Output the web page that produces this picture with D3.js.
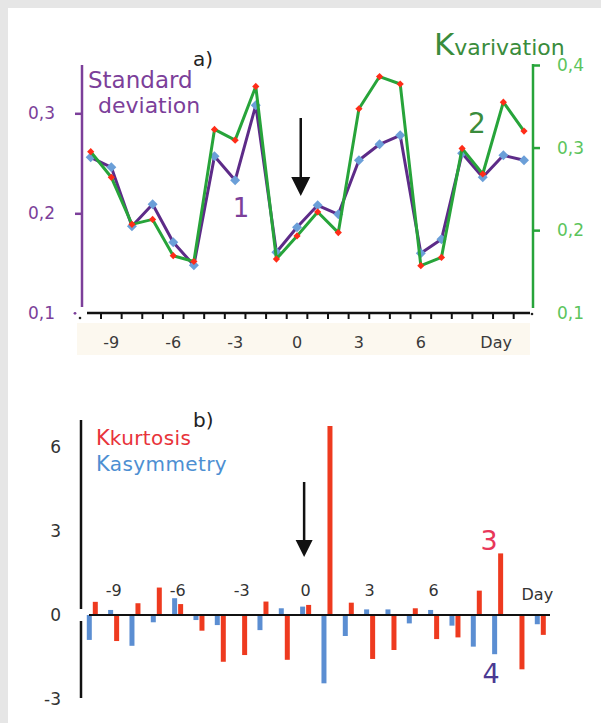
<!DOCTYPE html>
<html>
<head>
<meta charset="utf-8">
<script src="https://cdn.jsdelivr.net/npm/d3@7"></script>
<style>
  html, body { margin: 0; padding: 0; background: #e6e6e6; }
  svg { display: block; }
  text { font-family: "DejaVu Sans", Verdana, sans-serif; }
</style>
</head>
<body>
<div id="chart"></div>
<script>
// Days of observation (0 = event day)
const days = [-10, -9, -8, -7, -6, -5, -4, -3, -2, -1, 0, 1, 2, 3, 4, 5, 6, 7, 8, 9, 10, 11];

// a) Standard deviation (left axis) and K variation (right axis)
const stdDev     = [0.256, 0.246, 0.187, 0.209, 0.171, 0.148, 0.257, 0.233, 0.308, 0.161, 0.186,
                    0.208, 0.199, 0.253, 0.269, 0.278, 0.160, 0.174, 0.260, 0.236, 0.258, 0.253];
const kVariation = [0.295, 0.264, 0.207, 0.213, 0.169, 0.162, 0.322, 0.309, 0.374, 0.165, 0.193,
                    0.222, 0.197, 0.347, 0.386, 0.377, 0.157, 0.167, 0.299, 0.268, 0.355, 0.320];

// b) K kurtosis and K asymmetry
const kKurtosis  = [0.47, -0.93, 0.42, 0.98, 0.39, -0.56, -1.67, -1.43, 0.48, -1.60, 0.36,
                    6.75, 0.44, -1.57, -1.25, 0.24, -0.86, -0.80, 0.87, 2.20, -1.94, -0.71];
const kAsymmetry = [-0.89, 0.18, -1.10, -0.26, 0.60, -0.18, -0.36, 0.00, -0.54, 0.24, 0.30,
                    -2.44, -0.75, 0.20, 0.20, -0.30, 0.18, -0.38, -1.13, -1.40, 0.00, -0.33];

// Tick labels
const dayTicks    = [-9, -6, -3, 0, 3, 6];
const leftTicks   = [0.1, 0.2, 0.3];
const rightTicks  = [0.1, 0.2, 0.3, 0.4];
const bottomTicks = [-3, 0, 3, 6];

const PURPLE      = "#5d2b88";
const PURPLE_TEXT = "#7c3f9a";
const GREEN       = "#27a43a";
const GREEN_DARK  = "#3a8c3c";
const GREEN_LIGHT = "#5cc45c";
const BLUE        = "#6b9fd8";
const RED_DOT     = "#ff2c18";
const BAR_RED     = "#ee3a1f";
const BAR_BLUE    = "#5b8ed2";

const W = 601, H = 723;

const svg = d3.select("#chart").append("svg")
  .attr("width", W).attr("height", H);

svg.append("rect").attr("width", W).attr("height", H).attr("fill", "#e6e6e6");
svg.append("rect").attr("x", 8).attr("y", 8).attr("width", W - 8).attr("height", H - 8).attr("fill", "#fff");

const fmtComma = d => d.toFixed(1).replace(".", ",");

// ── Panel a ────────────────────────────────────────────────────────────────
const xTop   = d3.scaleLinear().domain([-10, 11]).range([90.7, 524]);
const yLeft  = d3.scaleLinear().domain([0.1, 0.3]).range([313.3, 113.3]);
const yRight = d3.scaleLinear().domain([0.1, 0.4]).range([312.7, 65]);

// beige band behind the day labels
svg.append("rect")
  .attr("x", 77).attr("y", 323).attr("width", 453).attr("height", 32)
  .attr("fill", "#fcf8ef");

// x axis (ticks between days)
const halfDays = days.slice(1).map(d => d - 0.5);
svg.append("line")
  .attr("x1", 87).attr("x2", 530).attr("y1", 313).attr("y2", 313)
  .attr("stroke", "#111").attr("stroke-width", 2.5);
svg.selectAll(".xtickTop").data(halfDays).join("line")
  .attr("x1", d => xTop(d)).attr("x2", d => xTop(d))
  .attr("y1", 313).attr("y2", 319)
  .attr("stroke", "#111").attr("stroke-width", 2);
svg.append("circle").attr("cx", 80).attr("cy", 318).attr("r", 1.3).attr("fill", "#222");
svg.append("circle").attr("cx", 532).attr("cy", 314).attr("r", 1.3).attr("fill", "#222");

svg.selectAll(".xlabTop").data(dayTicks).join("text")
  .attr("x", d => xTop(d)).attr("y", 348)
  .attr("text-anchor", "middle").attr("font-size", 16).attr("fill", "#3a3a3a")
  .text(d => d);
svg.append("text")
  .attr("x", xTop(9.65)).attr("y", 348)
  .attr("text-anchor", "middle").attr("font-size", 16).attr("fill", "#3a3a3a")
  .text("Day");

// left axis (standard deviation)
svg.append("line")
  .attr("x1", 82).attr("x2", 82).attr("y1", 65).attr("y2", 307)
  .attr("stroke", PURPLE_TEXT).attr("stroke-width", 2.5);
const leftAxis = svg.append("g")
  .attr("transform", "translate(82,0)")
  .call(d3.axisLeft(yLeft).tickValues(leftTicks).tickSize(7).tickPadding(20).tickFormat(fmtComma));
leftAxis.select(".domain").remove();
leftAxis.selectAll(".tick line").attr("stroke", PURPLE_TEXT).attr("stroke-width", 2.5)
  .filter(d => d === 0.1).remove();
leftAxis.selectAll(".tick text")
  .attr("font-family", "DejaVu Sans, Verdana, sans-serif")
  .attr("font-size", 17).attr("fill", PURPLE_TEXT);
svg.append("circle").attr("cx", 75).attr("cy", yLeft(0.1)).attr("r", 1.4).attr("fill", PURPLE_TEXT);

// right axis (K variation)
svg.append("line")
  .attr("x1", 533).attr("x2", 533).attr("y1", 64).attr("y2", 308)
  .attr("stroke", GREEN).attr("stroke-width", 2.5);
const rightAxis = svg.append("g")
  .attr("transform", "translate(533,0)")
  .call(d3.axisRight(yRight).tickValues(rightTicks).tickSize(7).tickPadding(17).tickFormat(fmtComma));
rightAxis.select(".domain").remove();
rightAxis.selectAll(".tick line").attr("stroke", GREEN).attr("stroke-width", 2.5)
  .filter(d => d === 0.1).remove();
rightAxis.selectAll(".tick text")
  .attr("font-family", "DejaVu Sans, Verdana, sans-serif")
  .attr("font-size", 17).attr("fill", GREEN_LIGHT);

// lines
const sdPts = days.map((d, i) => ({ day: d, v: stdDev[i] }));
const kvPts = days.map((d, i) => ({ day: d, v: kVariation[i] }));

svg.append("path")
  .datum(sdPts)
  .attr("fill", "none").attr("stroke", PURPLE).attr("stroke-width", 3)
  .attr("stroke-linejoin", "round")
  .attr("d", d3.line().x(d => xTop(d.day)).y(d => yLeft(d.v)));

const diamond = d3.symbol().type(d3.symbolSquare);

svg.selectAll(".sdDot").data(sdPts).join("path")
  .attr("d", diamond.size(50)())
  .attr("transform", d => `translate(${xTop(d.day)},${yLeft(d.v)}) rotate(45)`)
  .attr("fill", BLUE);

svg.append("path")
  .datum(kvPts)
  .attr("fill", "none").attr("stroke", GREEN).attr("stroke-width", 3)
  .attr("stroke-linejoin", "round")
  .attr("d", d3.line().x(d => xTop(d.day)).y(d => yRight(d.v)));

svg.selectAll(".kvDot").data(kvPts).join("path")
  .attr("d", d3.symbol().type(d3.symbolSquare).size(26)())
  .attr("transform", d => `translate(${xTop(d.day)},${yRight(d.v)}) rotate(45)`)
  .attr("fill", RED_DOT);

// arrow a
const ax = xTop(0.18);
svg.append("line")
  .attr("x1", ax).attr("x2", ax).attr("y1", yLeft(0.2953)).attr("y2", yLeft(0.232))
  .attr("stroke", "#111").attr("stroke-width", 2.5);
svg.append("path")
  .attr("d", `M${ax - 9.5},${yLeft(0.2363)} L${ax + 9.5},${yLeft(0.2363)} L${ax},${yLeft(0.2173)} Z`)
  .attr("fill", "#111");

// texts a
svg.append("text").attr("x", 88).attr("y", 88)
  .attr("font-size", 23).attr("fill", PURPLE_TEXT).text("Standard");
svg.append("text").attr("x", 98).attr("y", 113)
  .attr("font-size", 22).attr("fill", PURPLE_TEXT).text("deviation");
svg.append("text").attr("x", 193).attr("y", 66)
  .attr("font-size", 20).attr("fill", "#222").text("a)");
svg.append("text").attr("x", 241).attr("y", 217)
  .attr("text-anchor", "middle").attr("font-size", 26).attr("fill", PURPLE_TEXT).text("1");
svg.append("text").attr("x", 477).attr("y", 133)
  .attr("text-anchor", "middle").attr("font-size", 28).attr("fill", GREEN_DARK).text("2");

const kvTitle = svg.append("text").attr("x", 434).attr("y", 55).attr("fill", GREEN_DARK);
kvTitle.append("tspan").attr("font-size", 31).text("K");
kvTitle.append("tspan").attr("font-size", 22).text("varivation");

// ── Panel b ────────────────────────────────────────────────────────────────
const xBot = d3.scaleLinear().domain([-10, 11]).range([89.3, 537.3]);
const yBot = d3.scaleLinear().domain([-3, 6]).range([699, 447]);
const BAR_W = 5;
const RED_SHIFT = 6;

// y axis, broken around zero
svg.append("line")
  .attr("x1", 81).attr("x2", 81).attr("y1", 420).attr("y2", yBot(0) - 6)
  .attr("stroke", "#111").attr("stroke-width", 2.5);
svg.append("line")
  .attr("x1", 81).attr("x2", 81).attr("y1", yBot(0) + 6).attr("y2", 698)
  .attr("stroke", "#111").attr("stroke-width", 2.5);

svg.selectAll(".ylabBot").data(bottomTicks).join("text")
  .attr("x", 61).attr("y", d => yBot(d) + 6)
  .attr("text-anchor", "end").attr("font-size", 17).attr("fill", "#333")
  .text(d => d);

// bars
svg.selectAll(".barAsym").data(days).join("rect")
  .attr("x", d => xBot(d) - BAR_W / 2)
  .attr("y", (d, i) => yBot(Math.max(0, kAsymmetry[i])))
  .attr("width", BAR_W)
  .attr("height", (d, i) => Math.abs(yBot(kAsymmetry[i]) - yBot(0)))
  .attr("fill", BAR_BLUE);

svg.selectAll(".barKurt").data(days).join("rect")
  .attr("x", d => xBot(d) + RED_SHIFT - BAR_W / 2)
  .attr("y", (d, i) => yBot(Math.max(0, kKurtosis[i])))
  .attr("width", BAR_W)
  .attr("height", (d, i) => Math.abs(yBot(kKurtosis[i]) - yBot(0)))
  .attr("fill", BAR_RED);

// x axis
svg.append("line")
  .attr("x1", 89).attr("x2", 550).attr("y1", yBot(0)).attr("y2", yBot(0))
  .attr("stroke", "#111").attr("stroke-width", 2.2);

svg.selectAll(".xlabBot").data(dayTicks).join("text")
  .attr("x", d => xBot(d) + 3).attr("y", 596)
  .attr("text-anchor", "middle").attr("font-size", 16).attr("fill", "#333")
  .text(d => d);
svg.append("text")
  .attr("x", xBot(11)).attr("y", 600)
  .attr("text-anchor", "middle").attr("font-size", 16).attr("fill", "#333")
  .text("Day");

// arrow b
const bx = xBot(0.07);
svg.append("line")
  .attr("x1", bx).attr("x2", bx).attr("y1", yBot(4.75)).attr("y2", yBot(2.4))
  .attr("stroke", "#111").attr("stroke-width", 2.5);
svg.append("path")
  .attr("d", `M${bx - 8.5},${yBot(2.68)} L${bx + 8.5},${yBot(2.68)} L${bx},${yBot(2.07)} Z`)
  .attr("fill", "#111");

// texts b
svg.append("text").attr("x", 193).attr("y", 427)
  .attr("font-size", 20).attr("fill", "#222").text("b)");

const kurtTitle = svg.append("text").attr("x", 96).attr("y", 445).attr("fill", "#e8333a");
kurtTitle.append("tspan").attr("font-size", 21).text("K");
kurtTitle.append("tspan").attr("font-size", 20).attr("letter-spacing", 0.4).text("kurtosis");

const asymTitle = svg.append("text").attr("x", 96).attr("y", 471).attr("fill", "#4d8fd2");
asymTitle.append("tspan").attr("font-size", 21).text("K");
asymTitle.append("tspan").attr("font-size", 20).attr("letter-spacing", 0.4).text("asymmetry");

svg.append("text").attr("x", 489).attr("y", 550)
  .attr("text-anchor", "middle").attr("font-size", 27).attr("fill", "#e8375a").text("3");
svg.append("text").attr("x", 491).attr("y", 683)
  .attr("text-anchor", "middle").attr("font-size", 27).attr("fill", "#4b3a93").text("4");
</script>
</body>
</html>
